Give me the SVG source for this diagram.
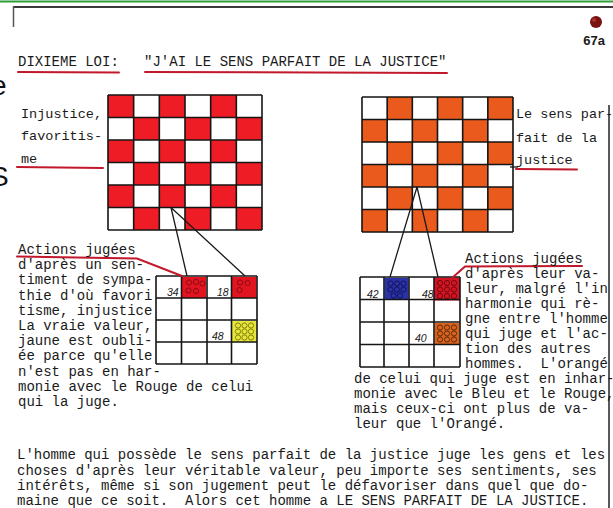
<svg xmlns="http://www.w3.org/2000/svg" width="613" height="508" viewBox="0 0 613 508">
<style>
text{font-family:"Liberation Mono","DejaVu Sans Mono",monospace;fill:#1a1a1a}
.t{font-size:14px}
.lbl{font-size:13.5px}
.num{font-family:"Liberation Sans",Arial,sans-serif;font-style:italic;font-size:10.5px}
.red{fill:#ee1c24}
.org{fill:#e95a1c}
.grid{fill:none;stroke:#151515;stroke-width:1.6}
.con{fill:none;stroke:#1a1a1a;stroke-width:1.3}
.ul{fill:none;stroke:#c2182c;stroke-width:2;stroke-linecap:round}
.c{fill:none;stroke-width:1}
</style>
<rect width="613" height="508" fill="#ffffff"/>
<g id="frame">
<line x1="0" y1="1.5" x2="613" y2="1.5" stroke="#2e9b3a" stroke-width="2"/>
<line x1="13" y1="7" x2="613" y2="7" stroke="#3a3a3a" stroke-width="2"/>
<line x1="13.5" y1="6" x2="13.5" y2="27" stroke="#555" stroke-width="1.5"/>
<line x1="609" y1="105" x2="609" y2="508" stroke="#222" stroke-width="1.5"/>
<text x="-9" y="95" style="font-family:'Liberation Sans',Arial,sans-serif;font-size:28px;fill:#111">e</text>
<text x="-10" y="186" style="font-family:'Liberation Sans',Arial,sans-serif;font-size:28px;fill:#111">S</text>
</g>
<g id="page-mark">
<circle cx="596" cy="22" r="6" fill="#7a1212"/>
<circle cx="594" cy="20" r="2" fill="#a83030"/>
<text x="605" y="45" text-anchor="end" style="font-family:'Liberation Sans',Arial,sans-serif;font-weight:bold;font-size:13px">67a</text>
</g>
<g id="heading">
<text class="t" x="18" y="66" xml:space="preserve">DIXIEME LOI:   "J'AI LE SENS PARFAIT DE LA JUSTICE"</text>
<path class="ul" d="M18 72 L119 72.5"/>
<path class="ul" d="M145 72 L447 73"/>
</g>
<g id="left-board">
<g class="red">
<rect x="108" y="95" width="25.67" height="22.5"/><rect x="159.33" y="95" width="25.67" height="22.5"/><rect x="210.67" y="95" width="25.67" height="22.5"/>
<rect x="133.67" y="117.5" width="25.67" height="22.5"/><rect x="185" y="117.5" width="25.67" height="22.5"/><rect x="236.33" y="117.5" width="25.67" height="22.5"/>
<rect x="108" y="140" width="25.67" height="22.5"/><rect x="159.33" y="140" width="25.67" height="22.5"/><rect x="210.67" y="140" width="25.67" height="22.5"/>
<rect x="133.67" y="162.5" width="25.67" height="22.5"/><rect x="185" y="162.5" width="25.67" height="22.5"/><rect x="236.33" y="162.5" width="25.67" height="22.5"/>
<rect x="108" y="185" width="25.67" height="22.5"/><rect x="159.33" y="185" width="25.67" height="22.5"/><rect x="210.67" y="185" width="25.67" height="22.5"/>
<rect x="133.67" y="207.5" width="25.67" height="22.5"/><rect x="185" y="207.5" width="25.67" height="22.5"/><rect x="236.33" y="207.5" width="25.67" height="22.5"/>
</g>
<path class="grid" d="M108 95V230M133.67 95V230M159.33 95V230M185 95V230M210.67 95V230M236.33 95V230M262 95V230M108 95H262M108 117.5H262M108 140H262M108 162.5H262M108 185H262M108 207.5H262M108 230H262"/>
</g>
<g id="right-board">
<g class="org">
<rect x="387.17" y="97" width="25.17" height="22.5"/><rect x="437.5" y="97" width="25.17" height="22.5"/><rect x="487.83" y="97" width="25.17" height="22.5"/>
<rect x="362" y="119.5" width="25.17" height="22.5"/><rect x="412.33" y="119.5" width="25.17" height="22.5"/><rect x="462.67" y="119.5" width="25.17" height="22.5"/>
<rect x="387.17" y="142" width="25.17" height="22.5"/><rect x="437.5" y="142" width="25.17" height="22.5"/><rect x="487.83" y="142" width="25.17" height="22.5"/>
<rect x="362" y="164.5" width="25.17" height="22.5"/><rect x="412.33" y="164.5" width="25.17" height="22.5"/><rect x="462.67" y="164.5" width="25.17" height="22.5"/>
<rect x="387.17" y="187" width="25.17" height="22.5"/><rect x="437.5" y="187" width="25.17" height="22.5"/><rect x="487.83" y="187" width="25.17" height="22.5"/>
<rect x="362" y="209.5" width="25.17" height="22.5"/><rect x="412.33" y="209.5" width="25.17" height="22.5"/><rect x="462.67" y="209.5" width="25.17" height="22.5"/>
</g>
<path class="grid" d="M362 97V232M387.17 97V232M412.33 97V232M437.5 97V232M462.67 97V232M487.83 97V232M513 97V232M362 97H513M362 119.5H513M362 142H513M362 164.5H513M362 187H513M362 209.5H513M362 232H513"/>
</g>
<g id="left-grid">
<rect x="182" y="277" width="24" height="21" fill="#e2141f"/>
<rect x="232" y="277" width="24.5" height="21" fill="#e2141f"/>
<rect x="232" y="321" width="24.5" height="21" fill="#e4e83a"/>
<g class="c" stroke="#8a0c14">
<circle cx="189" cy="282.5" r="2.6"/><circle cx="196" cy="282" r="2.6"/><circle cx="202.5" cy="283.5" r="2.6"/><circle cx="188.5" cy="290.5" r="2.6"/><circle cx="196" cy="291" r="2.6"/>
<circle cx="240" cy="282.5" r="2.6"/><circle cx="247.5" cy="283" r="2.6"/><circle cx="239.5" cy="290" r="2.6"/>
</g>
<g class="c" stroke="#8a7a10">
<circle cx="238" cy="325.5" r="2.6"/><circle cx="244.5" cy="325.5" r="2.6"/><circle cx="251" cy="325.5" r="2.6"/>
<circle cx="238" cy="331.5" r="2.6"/><circle cx="244.5" cy="331.5" r="2.6"/><circle cx="251" cy="331.5" r="2.6"/>
<circle cx="238" cy="337.5" r="2.6"/><circle cx="244.5" cy="337.5" r="2.6"/><circle cx="251" cy="337.5" r="2.6"/>
</g>
<path class="grid" d="M156 276V364M181.5 276V364M207 276V364M231.5 276V364M257 276V364M156 276H257M156 298H257M156 320H257M156 342H257M156 364H257"/>
<text class="num" x="167" y="296">34</text>
<text class="num" x="217" y="296">18</text>
<text class="num" x="212" y="340">48</text>
</g>
<g id="right-grid">
<rect x="384.5" y="278" width="24" height="21.5" fill="#2a32a6"/>
<rect x="434" y="277.5" width="26" height="23" fill="#d41422"/>
<rect x="434.5" y="323" width="25" height="21" fill="#d9621c"/>
<g class="c" stroke="#121258">
<circle cx="390.5" cy="283.5" r="2.6"/><circle cx="397" cy="283.5" r="2.6"/><circle cx="403.5" cy="283.5" r="2.6"/>
<circle cx="390.5" cy="289.5" r="2.6"/><circle cx="397" cy="289.5" r="2.6"/><circle cx="403.5" cy="289.5" r="2.6"/>
<circle cx="393.5" cy="295.5" r="2.6"/><circle cx="400" cy="295.5" r="2.6"/>
</g>
<g class="c" stroke="#6e0810">
<circle cx="440" cy="283" r="2.6"/><circle cx="447" cy="283" r="2.6"/><circle cx="454" cy="283" r="2.6"/>
<circle cx="440" cy="289.5" r="2.6"/><circle cx="447" cy="289.5" r="2.6"/><circle cx="454" cy="289.5" r="2.6"/>
<circle cx="440" cy="296" r="2.6"/><circle cx="447" cy="296" r="2.6"/><circle cx="454" cy="296" r="2.6"/>
</g>
<g class="c" stroke="#5a2a0c">
<circle cx="440" cy="327.5" r="2.6"/><circle cx="447" cy="327.5" r="2.6"/><circle cx="454" cy="327.5" r="2.6"/>
<circle cx="440" cy="333.5" r="2.6"/><circle cx="447" cy="333.5" r="2.6"/><circle cx="454" cy="333.5" r="2.6"/>
<circle cx="440" cy="339.5" r="2.6"/><circle cx="447" cy="339.5" r="2.6"/><circle cx="454" cy="339.5" r="2.6"/>
</g>
<path class="grid" d="M360 277V367M384 277V367M409 277V367M434 277V367M460 277V367M360 277H460M360 299.5H460M360 322H460M360 344.5H460M360 367H460"/>
<text class="num" x="367" y="298">42</text>
<text class="num" x="422" y="298">48</text>
<text class="num" x="415" y="342">40</text>
</g>
<g id="connectors">
<path class="con" d="M171 207.5L187 276M171 207.5L245 276"/>
<path class="con" d="M417 187L390 277M417 187L438 277"/>
<path class="ul" d="M17 256.5L137 258.5L182 276"/>
<path class="ul" d="M582 266L465 266.5L452 278"/>
<path class="ul" d="M17 167L103 168"/>
<path class="ul" d="M516 169L577 169.5"/>
<path d="M510 167H518" stroke="#1a1a1a" stroke-width="1.3"/>
</g>
<g id="label-left">
<text class="lbl" x="21" y="118">Injustice,</text>
<text class="lbl" x="21" y="140">favoritis-</text>
<text class="lbl" x="21" y="163">me</text>
</g>
<g id="label-right">
<text class="lbl" x="516" y="118">Le sens par-</text>
<text class="lbl" x="516" y="142">fait de la</text>
<text class="lbl" x="516" y="164">justice</text>
</g>
<g id="text-left">
<text class="t" x="18" y="254">Actions jugées</text>
<text class="t" x="18" y="269.2">d'après un sen-</text>
<text class="t" x="18" y="284.4">timent de sympa-</text>
<text class="t" x="18" y="299.6">thie d'où favori</text>
<text class="t" x="18" y="314.8">tisme, injustice</text>
<text class="t" x="18" y="330">La vraie valeur,</text>
<text class="t" x="18" y="345.2">jaune est oubli-</text>
<text class="t" x="18" y="360.4">ée parce qu'elle</text>
<text class="t" x="18" y="375.6">n'est pas en har-</text>
<text class="t" x="18" y="390.8">monie avec le Rouge de celui</text>
<text class="t" x="18" y="406">qui la juge.</text>
</g>
<g id="text-right">
<text class="t" x="465" y="263">Actions jugées</text>
<text class="t" x="465" y="278">d'après leur va-</text>
<text class="t" x="465" y="293">leur, malgré l'in</text>
<text class="t" x="465" y="308">harmonie qui rè-</text>
<text class="t" x="465" y="323">gne entre l'homme</text>
<text class="t" x="465" y="338">qui juge et l'ac-</text>
<text class="t" x="465" y="353">tion des autres</text>
<text class="t" x="465" y="368" xml:space="preserve">hommes.  L'orangé</text>
<text class="t" x="354" y="383">de celui qui juge est en inhar-</text>
<text class="t" x="354" y="398">monie avec le Bleu et le Rouge,</text>
<text class="t" x="354" y="413">mais ceux-ci ont plus de va-</text>
<text class="t" x="354" y="428">leur que l'Orangé.</text>
</g>
<g id="conclusion">
<text class="t" x="17" y="459">L'homme qui possède le sens parfait de la justice juge les gens et les</text>
<text class="t" x="17" y="474.5">choses d'après leur véritable valeur, peu importe ses sentiments, ses</text>
<text class="t" x="17" y="490">intérêts, même si son jugement peut le défavoriser dans quel que do-</text>
<text class="t" x="17" y="504.5" xml:space="preserve">maine que ce soit.  Alors cet homme a LE SENS PARFAIT DE LA JUSTICE.</text>
</g>
</svg>
